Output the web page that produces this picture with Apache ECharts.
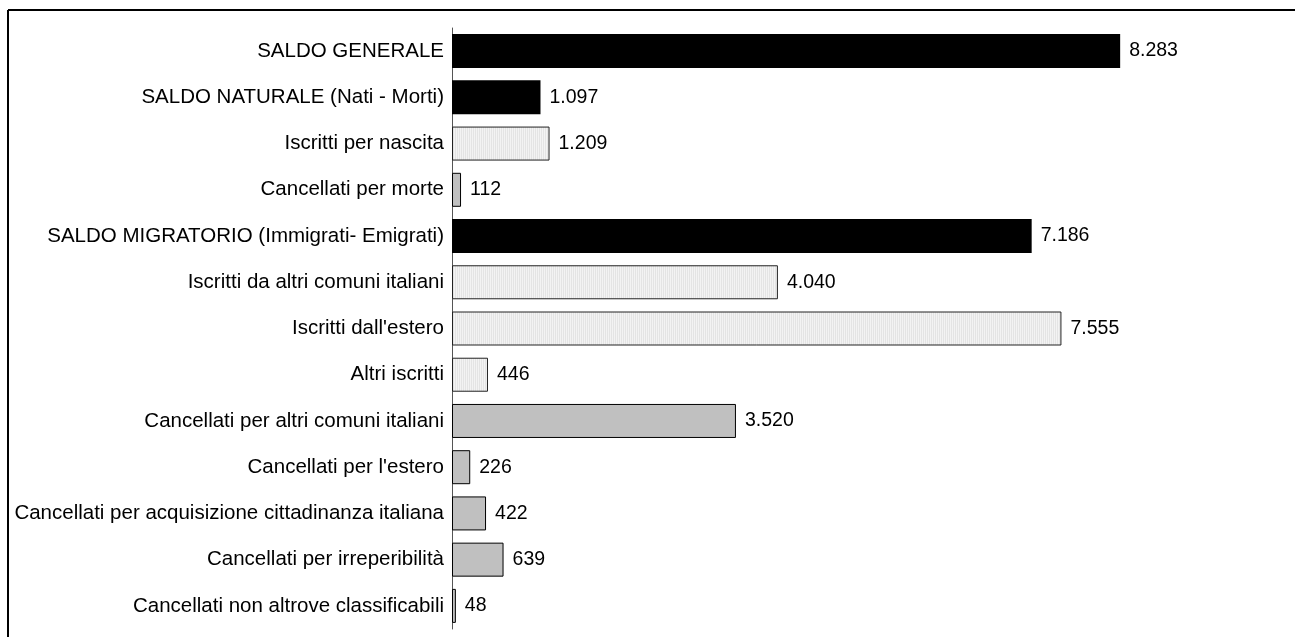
<!DOCTYPE html>
<html>
<head>
<meta charset="utf-8">
<script src="https://cdn.jsdelivr.net/npm/echarts@6/dist/echarts.min.js"></script>
<style>
html,body{margin:0;padding:0;background:#fff;}
#chart{width:1295px;height:637px;}
</style>
</head>
<body>
<div id="chart"></div>
<script>
const categories = [
  'SALDO GENERALE',
  'SALDO NATURALE (Nati - Morti)',
  'Iscritti per nascita',
  'Cancellati per morte',
  'SALDO MIGRATORIO (Immigrati- Emigrati)',
  'Iscritti da altri comuni italiani',
  "Iscritti dall'estero",
  'Altri iscritti',
  'Cancellati per altri comuni italiani',
  "Cancellati per l'estero",
  'Cancellati per acquisizione cittadinanza italiana',
  'Cancellati per irreperibilità',
  'Cancellati non altrove classificabili'
];
const values = [8283, 1097, 1209, 112, 7186, 4040, 7555, 446, 3520, 226, 422, 639, 48];
const groups = ['saldo', 'saldo', 'iscritti', 'cancellati', 'saldo', 'iscritti', 'iscritti', 'iscritti',
  'cancellati', 'cancellati', 'cancellati', 'cancellati', 'cancellati'];

// light hatched fill
const pc = document.createElement('canvas');
pc.width = 2; pc.height = 2;
const pctx = pc.getContext('2d');
pctx.fillStyle = '#f3f3f3'; pctx.fillRect(0, 0, 2, 2);
pctx.fillStyle = '#e4e4e4'; pctx.fillRect(1, 0, 1, 2);

const styles = {
  saldo: { color: '#000000', borderColor: '#000000', borderWidth: 0 },
  iscritti: { color: { image: pc, repeat: 'repeat' }, borderColor: '#222222', borderWidth: 1 },
  cancellati: { color: '#c0c0c0', borderColor: '#000000', borderWidth: 1 }
};

function fmt(v) {
  return String(v).replace(/\B(?=(\d{3})+(?!\d))/g, '.');
}

const chart = echarts.init(document.getElementById('chart'), null, { renderer: 'canvas' });
const FONT = 'Liberation Sans, Arial, sans-serif';
chart.setOption({
  animation: false,
  backgroundColor: '#ffffff',
  grid: { left: 452, right: 117, top: 28, bottom: 8, containLabel: false },
  xAxis: {
    type: 'value', min: 0, max: 9000, show: false
  },
  yAxis: {
    type: 'category',
    data: categories,
    inverse: true,
    axisLine: { show: true, lineStyle: { color: '#555555', width: 1 } },
    axisTick: { show: false },
    axisLabel: { color: '#000', fontFamily: FONT, fontSize: 20.5, margin: 8 }
  },
  series: [{
    type: 'bar',
    barWidth: 34,
    data: values.map((v, i) => ({ value: v, itemStyle: styles[groups[i]] })),
    label: {
      show: true, position: 'right', distance: 9,
      color: '#000', fontFamily: FONT, fontSize: 19.5,
      formatter: p => fmt(p.value)
    }
  }],
  graphic: [
    { type: 'line', shape: { x1: 8, y1: 10, x2: 1300, y2: 10 }, style: { stroke: '#000', lineWidth: 2 } },
    { type: 'line', shape: { x1: 8, y1: 10, x2: 8, y2: 640 }, style: { stroke: '#000', lineWidth: 2 } }
  ]
});
</script>
</body>
</html>
